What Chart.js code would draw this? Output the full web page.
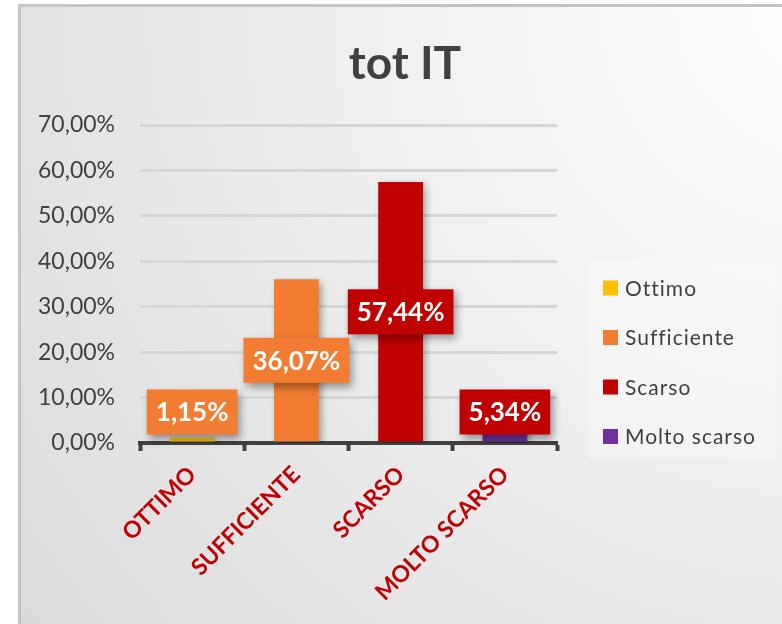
<!DOCTYPE html>
<html><head><meta charset="utf-8">
<script src="https://cdn.jsdelivr.net/npm/chart.js@4"></script>
<style>
html,body{margin:0;padding:0;background:#fff;overflow:hidden;width:782px;height:624px;}
#frame{position:absolute;left:18px;top:4px;width:800px;height:660px;border-left:3px solid #c4c4c4;border-top:3px solid #c4c4c4;background:radial-gradient(circle at 100% 0%, #ffffff 0%, #f3f3f3 35%, #dadada 100%);}
canvas{position:absolute;left:0;top:0;}
</style></head><body>
<div id="frame"></div>
<canvas id="c" width="782" height="624"></canvas>
<script>
const titleText = 'tot IT';
const categories = ['OTTIMO', 'SUFFICIENTE', 'SCARSO', 'MOLTO SCARSO'];
const legendLabels = ['Ottimo', 'Sufficiente', 'Scarso', 'Molto scarso'];
const values = [1.15, 36.07, 57.44, 5.34];
const yTicks = [0, 10, 20, 30, 40, 50, 60, 70];

const barColors = ['#ffc000', '#f27d32', '#c00000', '#7030a0'];
const labelBoxColors = ['#f27d32', '#f27d32', '#c00000', '#c00000'];
const FONT = 'Lato, "Open Sans", sans-serif';

const fmt = v => v.toFixed(2).replace('.', ',') + '%';

const decorPlugin = {
  id: 'decor',
  beforeDatasetsDraw(chart) {
    const ctx = chart.ctx;
    ctx.save();
    ctx.shadowColor = 'rgba(0,0,0,0.35)';
    ctx.shadowBlur = 7;
    ctx.shadowOffsetX = 3;
    ctx.shadowOffsetY = 3;
  },
  afterDatasetsDraw(chart) {
    const ctx = chart.ctx;
    ctx.restore();
    const meta = chart.getDatasetMeta(0);
    meta.data.forEach((el, i) => {
      const text = fmt(values[i]);
      ctx.save();
      ctx.font = 'bold 26px ' + FONT;
      const tw = ctx.measureText(text).width;
      const w = tw + 18, h = 45;
      let cy = (el.y + el.base) / 2;
      cy = Math.min(cy, el.base - 7 - h / 2);
      ctx.shadowColor = 'rgba(0,0,0,0.4)';
      ctx.shadowBlur = 8;
      ctx.shadowOffsetX = 3;
      ctx.shadowOffsetY = 4;
      ctx.fillStyle = labelBoxColors[i];
      ctx.fillRect(el.x - w / 2, cy - h / 2, w, h);
      ctx.shadowColor = 'transparent';
      ctx.fillStyle = '#ffffff';
      ctx.textAlign = 'center';
      ctx.textBaseline = 'middle';
      ctx.fillText(text, el.x, cy + 1);
      ctx.restore();
    });
  },
  afterDraw(chart) {
    const ctx = chart.ctx;
    ctx.save();
    // title
    ctx.font = 'bold 46px ' + FONT;
    ctx.fillStyle = '#404040';
    ctx.textAlign = 'center';
    ctx.textBaseline = 'alphabetic';
    ctx.fillText(titleText, 405, 79);
    // legend
    ctx.fillStyle = 'rgba(255,255,255,0.25)';
    ctx.fillRect(588, 262, 188, 197);
    ctx.font = '21px ' + FONT;
    if ('letterSpacing' in ctx) ctx.letterSpacing = '1px';
    ctx.textAlign = 'left';
    ctx.textBaseline = 'middle';
    legendLabels.forEach((lab, i) => {
      const cy = 288 + i * 49.5;
      ctx.fillStyle = barColors[i];
      ctx.fillRect(603, cy - 7.5, 15, 15);
      ctx.fillStyle = '#404040';
      ctx.fillText(lab, 625, cy + 1);
    });
    ctx.restore();
  }
};

new Chart(document.getElementById('c'), {
  type: 'bar',
  data: {
    labels: categories,
    datasets: [{
      data: values,
      backgroundColor: barColors,
      borderWidth: 0,
      categoryPercentage: 1,
      barPercentage: 0.43
    }]
  },
  options: {
    responsive: false,
    animation: false,
    layout: { padding: { top: 125, right: 225, left: 0, bottom: 0 } },
    plugins: { legend: { display: false }, title: { display: false }, tooltip: { enabled: false } },
    scales: {
      x: {
        grid: { drawOnChartArea: false, drawTicks: true, tickLength: 8, tickWidth: 4, tickColor: '#404040', color: '#404040', offset: true },
        border: { display: true, color: '#404040', width: 4 },
        ticks: { color: '#c00000', font: { family: FONT, size: 23, weight: 'bold' }, minRotation: 45, maxRotation: 45, padding: 10, autoSkip: false },
        afterFit: s => { s.height = 181; }
      },
      y: {
        min: 0, max: 70,
        grid: { color: '#d6d6d6', lineWidth: 3, drawTicks: false },
        border: { display: false },
        ticks: { color: '#404040', font: { family: FONT, size: 23 }, padding: 25, callback: v => fmt(v) },
        afterBuildTicks: s => { s.ticks = yTicks.map(v => ({ value: v })); },
        afterFit: s => { s.width = 140; }
      }
    }
  },
  plugins: [decorPlugin]
});
</script>
</body></html>
